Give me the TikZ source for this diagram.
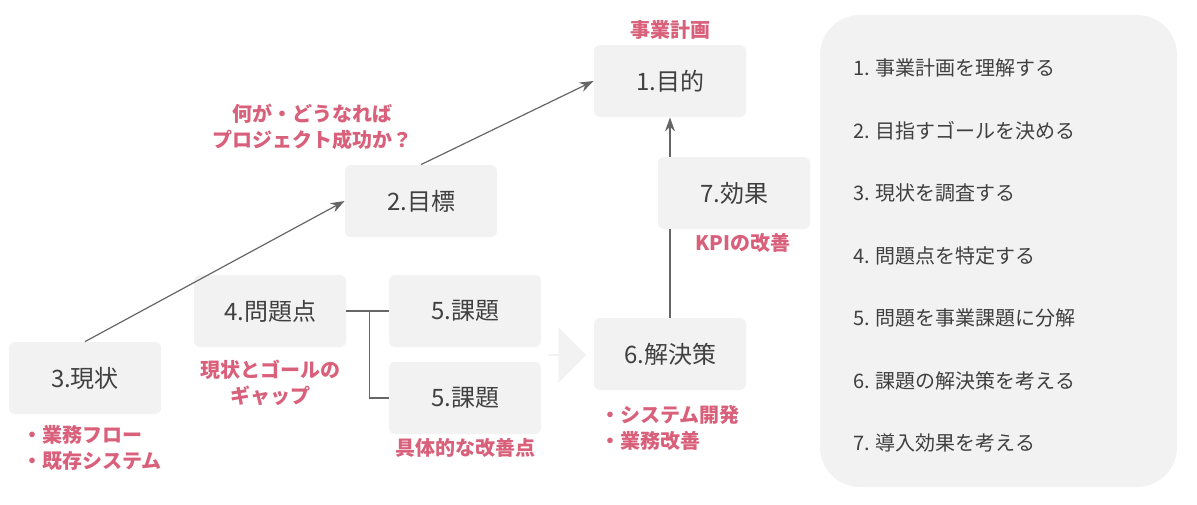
\documentclass[tikz,border=0pt]{standalone}
\usepackage{fontspec}
\setmainfont{Noto Sans CJK JP}
\usetikzlibrary{arrows.meta, positioning, shapes.arrows}
\definecolor{boxgray}{HTML}{F2F2F2}
\definecolor{txtgray}{HTML}{404040}
\definecolor{notered}{HTML}{D9607A}
\begin{document}
\begin{tikzpicture}[x=0.5pt, y=-0.5pt, >={Stealth[length=7pt,width=5pt]}, line/.style={draw=txtgray!80, line width=0.6pt}]
    % Define styles for steps, notes and the list panel
    \tikzset{stepbox/.style={fill=boxgray, rounded corners=3pt, minimum width=76pt, minimum height=36pt, text=txtgray, font=\fontsize{12}{14}\selectfont}}
    \tikzset{note/.style={text=notered, font=\bfseries\fontsize{10}{13}\selectfont, align=left}}
    \tikzset{item/.style={anchor=west, text=txtgray, font=\fontsize{10}{12}\selectfont}}
    \useasboundingbox (0,0) rectangle (1197,504);

    % List panel
    \fill[boxgray, rounded corners=20pt] (820,15) rectangle (1177,487);

    % Nodes placement
    \node [stepbox] (genjo) at (85,378) {3.現状};
    \node [stepbox] (mokuhyo) at (421,201) {2.目標};
    \node [stepbox] (mokuteki) at (670,81) {1.目的};
    \node [stepbox] (mondai) at (270,311) {4.問題点};
    \node [stepbox] (kadai1) at (465,311) {5.課題};
    \node [stepbox] (kadai2) at (465,398) {5.課題};
    \node [stepbox] (kaiketsu) at (670,354) {6.解決策};
    \node [stepbox] (koka) at (734,193) {7.効果};
    \node [single arrow, fill=boxgray, minimum height=19pt, minimum width=28pt, single arrow head extend=7pt, inner sep=0pt] (flow) at (567,355) {};

    % Notes
    \node [note, above=-1pt of mokuteki] (plan) {事業計画};
    \node [note, align=center] (question) at (312,127) {何が・どうなれば\\プロジェクト成功か？};
    \node [note, align=center, below=3pt of mondai] (gap) {現状とゴールの\\ギャップ};
    \node [note] (asis) at (92,448) {・業務フロー\\・既存システム};
    \node [note] (point) at (465,448) {具体的な改善点};
    \node [note] (dev) at (670,428) {・システム開発\\・業務改善};
    \node [note] (kpi) at (743,243) {KPIの改善};

    % List items
    \foreach \t [count=\i] in {事業計画を理解する, 目指すゴールを決める, 現状を調査する, 問題点を特定する, 問題を事業課題に分解, 課題の解決策を考える, 導入効果を考える}
        \node [item] (list\i) at (846,{68+62.5*(\i-1)}) {\i. \t};

    % Draw edges
    \draw[line,->] (genjo.north) -- (mokuhyo.west);
    \draw[line,->] (mokuhyo.north) -- (mokuteki.west);
    \draw[line,->] (koka.north -| mokuteki.south) -- (mokuteki.south);
    \draw[line] (kaiketsu.north) -- (kaiketsu.north |- koka.south);
    \draw[line] (mondai.east) -- ++(23,0) coordinate (fork) -- (kadai1.west);
    \draw[line] (fork) |- (kadai2.west);
\end{tikzpicture}
\end{document}
